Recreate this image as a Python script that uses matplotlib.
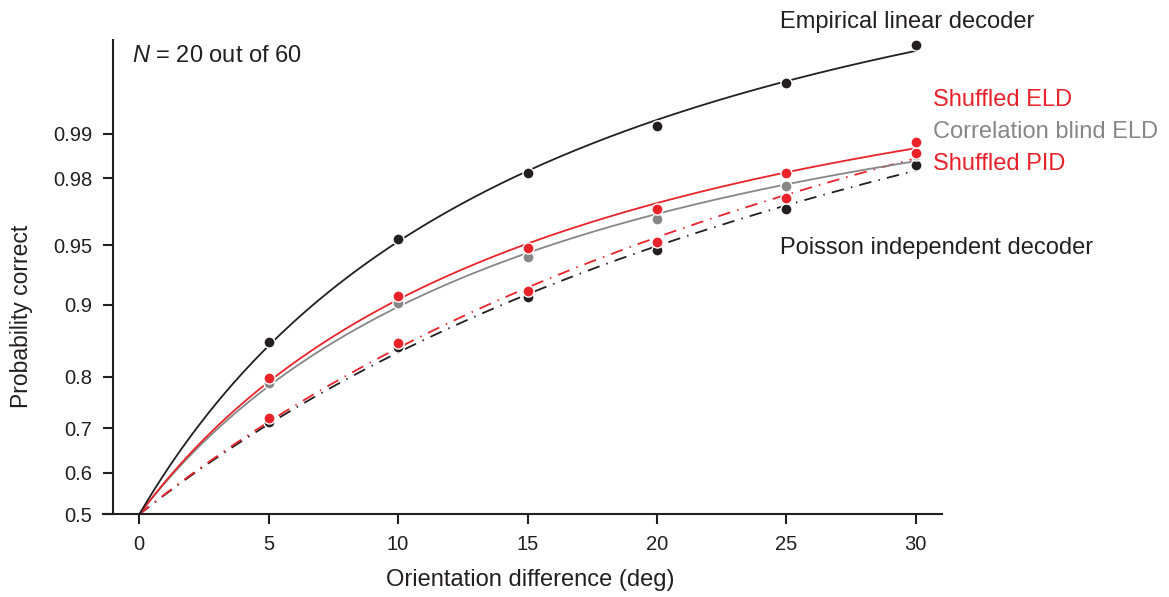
import math
import numpy as np
import matplotlib
matplotlib.use("Agg")
import matplotlib.pyplot as plt
from matplotlib.ticker import FixedLocator, FixedFormatter, NullLocator

plt.rcParams["font.family"] = ["Liberation Sans", "DejaVu Sans"]
plt.rcParams["mathtext.fontset"] = "custom"
plt.rcParams["mathtext.rm"] = "Liberation Sans"
plt.rcParams["mathtext.it"] = "Liberation Sans:italic"

# ---- data -------------------------------------------------------------
orientation_deg = [5, 10, 15, 20, 25, 30]

empirical_linear = [0.8533, 0.9535, 0.9814, 0.9912, 0.99577, 0.99794]
shuffled_eld = [0.7970, 0.9088, 0.9481, 0.9689, 0.9814, 0.98847]
correlation_blind_eld = [0.7893, 0.9011, 0.9418, 0.9642, 0.9776, 0.9859]
shuffled_pid = [0.7212, 0.8519, 0.9140, 0.9521, 0.9732, 0.98641]
poisson_independent = [0.7136, 0.8466, 0.9075, 0.9468, 0.9688, 0.98357]

y_ticks = [0.5, 0.6, 0.7, 0.8, 0.9, 0.95, 0.98, 0.99]
y_tick_labels = ["0.5", "0.6", "0.7", "0.8", "0.9", "0.95", "0.98", "0.99"]
x_ticks = [0, 5, 10, 15, 20, 25, 30]

RED = "#e8232a"
GRAY = "#878787"
BLACK = "#231f20"


# ---- probit (normal quantile) axis ------------------------------------
_erf = np.vectorize(math.erf, otypes=[float])


def norm_cdf(z):
    z = np.asarray(z, dtype=float)
    return 0.5 * (1.0 + _erf(z / math.sqrt(2.0)))


def norm_ppf(p):
    p = np.clip(np.asarray(p, dtype=float), 1e-12, 1 - 1e-12)
    lo = np.full_like(p, -8.0)
    hi = np.full_like(p, 8.0)
    for _ in range(50):
        mid = 0.5 * (lo + hi)
        below = norm_cdf(mid) < p
        lo = np.where(below, mid, lo)
        hi = np.where(below, hi, mid)
    return 0.5 * (lo + hi)


def fit_saturating(x, p):
    """Least-squares fit of z = a*x/(b+x) in probit space."""
    x = np.asarray(x, float)
    z = norm_ppf(p)
    best = None
    for b in np.linspace(0.5, 300, 6000):
        g = x / (b + x)
        a = np.dot(z, g) / np.dot(g, g)
        err = np.sum((z - a * g) ** 2)
        if best is None or err < best[0]:
            best = (err, a, b)
    _, a, b = best
    return lambda xx: norm_cdf(a * np.asarray(xx, float) / (b + np.asarray(xx, float)))


# ---- figure -----------------------------------------------------------
fig = plt.figure(figsize=(11.69, 5.97), dpi=100)
ax = fig.add_axes([103.3 / 1169, (597 - 514.3) / 597, (941.7 - 103.3) / 1169, (514.3 - 40) / 597])
ax.set_yscale("function", functions=(norm_ppf, norm_cdf))

lw = 1.3
dashdot = (0, (9.0 / lw, 5.2 / lw, 1.1 / lw, 5.2 / lw))

# curves, back to front
curves = [
    (poisson_independent, BLACK, dashdot),
    (shuffled_pid, RED, dashdot),
    (correlation_blind_eld, GRAY, "-"),
    (shuffled_eld, RED, "-"),
    (empirical_linear, BLACK, "-"),
]

x_fine = np.linspace(0, 30, 400)
for vals, color, ls in curves:
    curve = fit_saturating(orientation_deg, vals)
    ax.plot(x_fine, curve(x_fine), color=color, lw=lw, ls=ls, zorder=2)

# markers, red drawn over gray and black
markers = [
    (poisson_independent, BLACK),
    (correlation_blind_eld, GRAY),
    (shuffled_pid, RED),
    (shuffled_eld, RED),
    (empirical_linear, BLACK),
]
for vals, color in markers:
    ax.plot(orientation_deg, vals, ls="none", marker="o", ms=8,
            mfc=color, mec="white", mew=1.0, zorder=3)

ax.set_xlim(-1.39, 31.0)
ax.set_ylim(0.5, 0.99812)

ax.yaxis.set_major_locator(FixedLocator(y_ticks))
ax.yaxis.set_major_formatter(FixedFormatter(y_tick_labels))
ax.yaxis.set_minor_locator(NullLocator())
ax.set_xticks(x_ticks)
ax.xaxis.set_minor_locator(NullLocator())

for side in ("top", "right"):
    ax.spines[side].set_visible(False)
ax.spines["left"].set_position(("data", -1.0))
for side in ("left", "bottom"):
    ax.spines[side].set_linewidth(1.5)
    ax.spines[side].set_color(BLACK)

ax.tick_params(direction="out", length=7, width=1.5, color=BLACK,
               labelsize=14.5, labelcolor=BLACK)
ax.tick_params(axis="x", pad=8)
ax.tick_params(axis="y", pad=8)

fig.text(530 / 1169, 1 - 580 / 597, "Orientation difference (deg)",
         fontsize=17, color=BLACK, ha="center", va="center")
fig.text(22 / 1169, 1 - 316 / 597, "Probability correct",
         fontsize=16.5, color=BLACK, ha="center", va="center", rotation=90)


def label(x_px, y_px, text, color):
    fig.text(x_px / 1169, 1 - y_px / 597, text, fontsize=17, color=color,
             ha="left", va="baseline")


label(780, 28, "Empirical linear decoder", BLACK)
label(933, 106, "Shuffled ELD", RED)
label(933, 138.5, "Correlation blind ELD", GRAY)
label(933, 170.5, "Shuffled PID", RED)
label(780, 254, "Poisson independent decoder", BLACK)
label(132, 61.7, "$N$ = 20 out of 60", BLACK)

fig.savefig("out.png", dpi=100)
